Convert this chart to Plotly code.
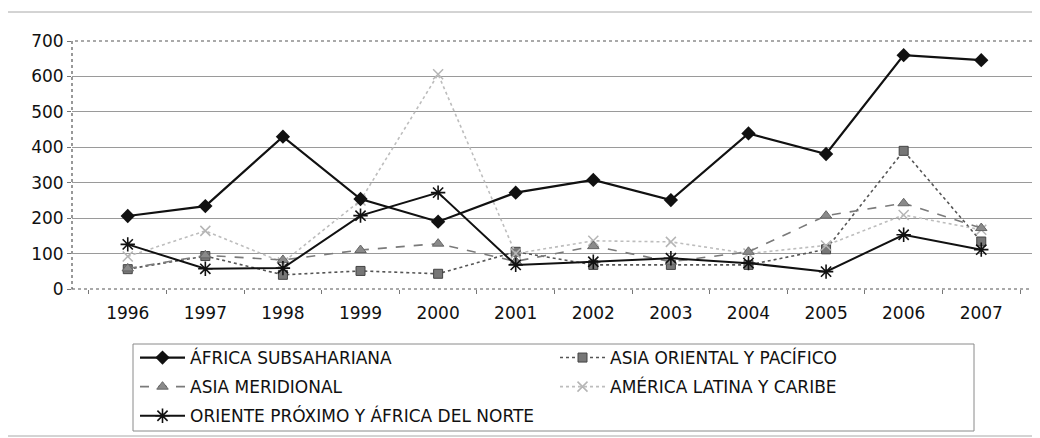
import plotly.graph_objects as go

years = ["1996", "1997", "1998", "1999", "2000", "2001", "2002", "2003", "2004", "2005", "2006", "2007"]
africa = [206, 234, 430, 254, 190, 272, 308, 251, 439, 381, 660, 646]
asia_oriental = [56, 93, 40, 51, 43, 105, 68, 68, 68, 112, 390, 134]
asia_meridional = [58, 95, 82, 110, 128, 78, 121, 77, 105, 207, 242, 172]
america_latina = [92, 164, 75, 250, 606, 100, 136, 133, 100, 123, 209, 167]
oriente = [126, 57, 59, 207, 272, 68, 77, 87, 73, 49, 153, 111]
y_ticks = [0, 100, 200, 300, 400, 500, 600, 700]

FONT = "DejaVu Sans"
OFF = 8  # page body margin
W, H = 1040 - OFF, 438 - OFF
# plot area in page pixels
L, R, T, B = 72, 1037, 41, 289


def px(x):
    return (x - L) / (R - L)


def py(y):
    return (B - y) / (B - T)


fig = go.Figure()

series = [
    ("ASIA ORIENTAL Y PACÍFICO", asia_oriental, dict(color="#555555", width=1.6, dash="dot"),
     dict(symbol="square", size=9, color="#777777", line=dict(color="#444444", width=1)), "legend2"),
    ("AMÉRICA LATINA Y CARIBE", america_latina, dict(color="#bdbdbd", width=1.6, dash="dot"),
     dict(symbol="x-thin-open", size=10, color="#b5b5b5", line=dict(color="#b5b5b5", width=1.5)), "legend2"),
    ("ASIA MERIDIONAL", asia_meridional, dict(color="#7a7a7a", width=1.6, dash="dash"),
     dict(symbol="triangle-up", size=10, color="#8a8a8a", line=dict(color="#666666", width=1)), "legend"),
    ("ORIENTE PRÓXIMO Y ÁFRICA DEL NORTE", oriente, dict(color="#111111", width=2),
     dict(symbol="asterisk-open", size=12, color="#111111", line=dict(color="#111111", width=1.6)), "legend"),
    ("ÁFRICA SUBSAHARIANA", africa, dict(color="#111111", width=2.2),
     dict(symbol="diamond", size=11, color="#111111"), "legend"),
]
legend_rank = {
    "ÁFRICA SUBSAHARIANA": 1,
    "ASIA MERIDIONAL": 2,
    "ORIENTE PRÓXIMO Y ÁFRICA DEL NORTE": 3,
    "ASIA ORIENTAL Y PACÍFICO": 1,
    "AMÉRICA LATINA Y CARIBE": 2,
}
for name, vals, line, marker, lg in series:
    fig.add_trace(go.Scatter(
        x=years, y=vals, name=name, mode="lines+markers",
        line=line, marker=marker, legend=lg, legendgroup=name,
        legendrank=legend_rank[name],
    ))

legend_common = dict(
    bgcolor="rgba(0,0,0,0)", borderwidth=0, orientation="v",
    font=dict(family=FONT, size=17, color="#111111"),
    itemwidth=45, tracegroupgap=4, traceorder="grouped",
    xanchor="left", yanchor="top",
)

fig.update_layout(
    width=W, height=H,
    margin=dict(l=L - OFF, r=(W + OFF) - R, t=T - OFF, b=(H + OFF) - B, autoexpand=False),
    paper_bgcolor="white", plot_bgcolor="white",
    font=dict(family=FONT, size=17, color="#111111"),
    showlegend=True,
    legend=dict(x=px(135), y=py(340), **legend_common),
    legend2=dict(x=px(555), y=py(340), **legend_common),
    xaxis=dict(
        type="category", showgrid=False, zeroline=False, showline=False,
        ticks="outside", tickson="boundaries", ticklen=4, tickcolor="#777777",
        tickfont=dict(family=FONT, size=17, color="#111111"),
        ticklabelstandoff=12,
    ),
    yaxis=dict(
        range=[0, 700], tickvals=y_ticks, showgrid=True, gridcolor="#9a9a9a", gridwidth=1,
        zeroline=False, showline=False, ticks="outside", ticklen=4, tickcolor="#777777",
        tickfont=dict(family=FONT, size=17, color="#111111"),
    ),
    shapes=[
        dict(type="rect", xref="paper", yref="paper", x0=px(7), x1=px(1038), y0=py(436), y1=py(12),
             line=dict(color="#a8a8a8", width=1), layer="below"),
        dict(type="rect", xref="paper", yref="paper", x0=0, x1=1, y0=0, y1=1,
             line=dict(color="#555555", width=1.2, dash="dot"), layer="below"),
        dict(type="rect", xref="paper", yref="paper", x0=px(133), x1=px(974), y0=py(431), y1=py(344),
             line=dict(color="#8a8a8a", width=1), layer="below"),
    ],
)

fig.write_html("out.html")
